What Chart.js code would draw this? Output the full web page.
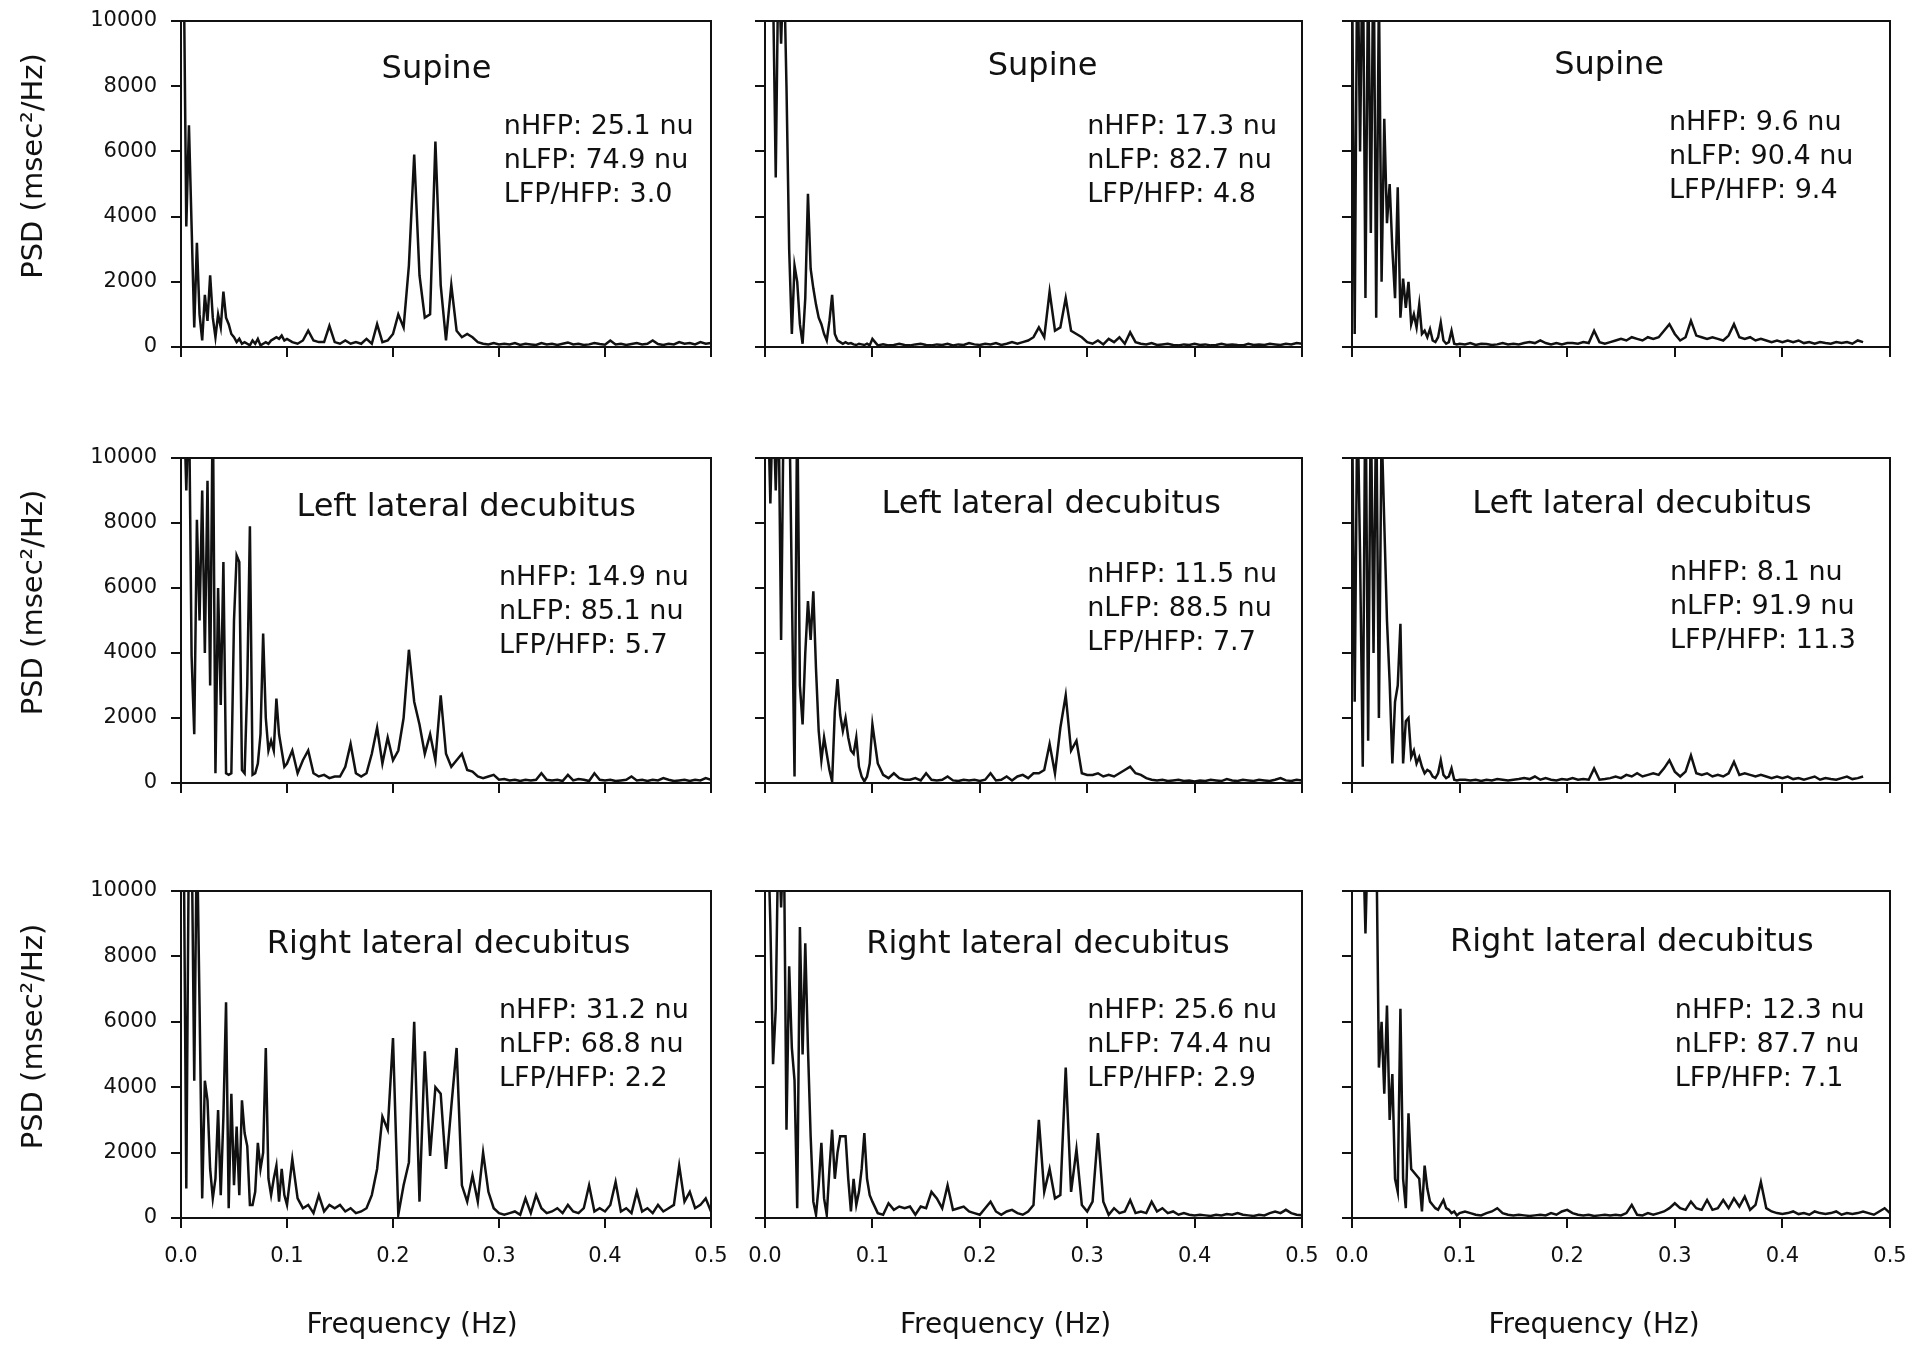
<!DOCTYPE html>
<html lang="en">
<head>
<meta charset="UTF-8">
<title>PSD by body position</title>
<script src="https://cdn.jsdelivr.net/npm/chart.js"></script>
<style>
  body { margin: 0; background: #fff; width: 1917px; height: 1345px; position: relative; overflow: hidden; }
  canvas { position: absolute; }
</style>
</head>
<body>
<script>
// frequency grid (Hz): 0.0025 steps up to 0.1, then 0.005 steps
const freqHz = [
  0, 0.0025, 0.005, 0.0075, 0.01, 0.0125, 0.015, 0.0175, 0.02, 0.0225,
  0.025, 0.0275, 0.03, 0.0325, 0.035, 0.0375, 0.04, 0.0425, 0.045, 0.0475,
  0.05, 0.0525, 0.055, 0.0575, 0.06, 0.0625, 0.065, 0.0675, 0.07, 0.0725,
  0.075, 0.0775, 0.08, 0.0825, 0.085, 0.0875, 0.09, 0.0925, 0.095, 0.0975,
  0.1, 0.105, 0.11, 0.115, 0.12, 0.125, 0.13, 0.135, 0.14, 0.145,
  0.15, 0.155, 0.16, 0.165, 0.17, 0.175, 0.18, 0.185, 0.19, 0.195,
  0.2, 0.205, 0.21, 0.215, 0.22, 0.225, 0.23, 0.235, 0.24, 0.245,
  0.25, 0.255, 0.26, 0.265, 0.27, 0.275, 0.28, 0.285, 0.29, 0.295,
  0.3, 0.305, 0.31, 0.315, 0.32, 0.325, 0.33, 0.335, 0.34, 0.345,
  0.35, 0.355, 0.36, 0.365, 0.37, 0.375, 0.38, 0.385, 0.39, 0.395,
  0.4, 0.405, 0.41, 0.415, 0.42, 0.425, 0.43, 0.435, 0.44, 0.445,
  0.45, 0.455, 0.46, 0.465, 0.47, 0.475, 0.48, 0.485, 0.49, 0.495,
  0.5
];

// PSD values (msec^2/Hz)
const supineA = [
  14000, 12000, 3700, 6800, 3700, 600, 3200, 1000, 200, 1600, 800, 2200, 900, 300, 1000, 600, 1700, 900, 700, 400,
  300, 150, 250, 100, 150, 100, 50, 200, 100, 250, 50, 100, 150, 100, 200, 250, 300, 250, 350, 200, 250,
  150, 100, 200, 500, 200, 150, 150, 650, 150, 100, 200, 100, 150, 100, 250, 100, 700, 150, 200, 400,
  1000, 600, 2500, 5900, 2200, 900, 1000, 6300, 1900, 200, 1900, 500, 300, 400, 300, 150, 100, 80, 120, 80,
  100, 80, 120, 60, 100, 80, 60, 120, 80, 100, 60, 100, 140, 80, 100, 60, 80, 120, 90, 70,
  200, 80, 100, 60, 90, 120, 80, 100, 200, 90, 60, 100, 80, 150, 100, 120, 80, 150, 100, 120
];
const supineB = [
  12000, 12000, 12000, 11000, 5200, 12000, 9300, 12000, 8000, 3000, 400, 2500, 2000, 700, 100, 1500, 4700, 2400, 1800, 1300,
  900, 700, 400, 200, 800, 1600, 400, 200, 150, 100, 150, 100, 120, 80, 60, 100, 80, 60, 100, 50, 250,
  50, 80, 50, 60, 100, 60, 50, 80, 100, 60, 50, 80, 60, 100, 50, 80, 60, 120, 80, 60,
  100, 80, 120, 60, 100, 150, 100, 150, 200, 300, 600, 300, 1700, 500, 600, 1500, 500, 400, 300, 150,
  100, 200, 80, 250, 150, 300, 100, 450, 150, 100, 80, 120, 60, 80, 100, 60, 50, 80, 60, 100,
  60, 80, 50, 60, 100, 60, 80, 60, 50, 100, 60, 80, 60, 100, 80, 60, 100, 80, 120, 100
];
const supineC = [
  12000, 400, 13000, 6000, 13000, 1500, 12000, 3500, 13000, 900, 11000, 2000, 7000, 3800, 5000, 3000, 1500, 4900, 900, 2100,
  1200, 2000, 700, 1000, 600, 1300, 400, 500, 300, 550, 200, 150, 300, 750, 200, 100, 150, 500, 100, 80, 100,
  80, 120, 60, 100, 90, 60, 80, 120, 80, 100, 80, 120, 150, 120, 200, 120, 80, 120, 80, 120,
  120, 100, 150, 120, 500, 150, 100, 150, 200, 250, 200, 300, 250, 200, 300, 250, 300, 500, 700, 400,
  200, 300, 800, 350, 300, 250, 300, 250, 200, 350, 700, 300, 250, 300, 200, 250, 200, 150, 200, 150,
  200, 150, 200, 120, 150, 100, 150, 120, 100, 150, 120, 150, 100, 200, 150, null, null, null, null, null
];
const leftA = [
  12000, 12000, 9000, 12000, 3900, 1500, 8100, 5000, 9000, 4000, 9300, 3000, 12000, 300, 6000, 2400, 6800, 300, 250, 300,
  5000, 7000, 6800, 400, 300, 3000, 7900, 250, 300, 600, 1500, 4600, 2000, 1000, 1300, 1000, 2600, 1500, 1000, 500, 600,
  1000, 300, 700, 1000, 300, 200, 250, 150, 200, 200, 500, 1200, 300, 200, 300, 900, 1700, 600, 1400, 700,
  1000, 2000, 4100, 2500, 1800, 900, 1500, 700, 2700, 900, 500, 700, 900, 400, 350, 200, 150, 200, 250, 100,
  120, 80, 100, 60, 100, 80, 100, 300, 100, 80, 100, 60, 250, 80, 120, 100, 60, 300, 100, 80,
  100, 60, 80, 100, 200, 80, 100, 60, 100, 80, 150, 100, 60, 80, 100, 60, 100, 80, 150, 100
];
const leftB = [
  12000, 12000, 8600, 12000, 9000, 12000, 4400, 12000, 10000, 12000, 6000, 200, 12000, 3000, 1800, 4000, 5600, 4400, 5900, 3500,
  1600, 700, 1400, 900, 400, 50, 2200, 3200, 2100, 1600, 2000, 1400, 1000, 900, 1400, 500, 200, 50, 200, 600, 1800,
  600, 250, 150, 300, 150, 100, 100, 150, 80, 300, 100, 80, 100, 200, 80, 60, 100, 80, 100, 60,
  100, 300, 80, 100, 200, 80, 200, 250, 150, 300, 300, 400, 1200, 300, 1700, 2700, 1000, 1300, 300, 250,
  250, 300, 200, 250, 200, 300, 400, 500, 300, 250, 150, 100, 80, 100, 60, 80, 100, 60, 80, 50,
  80, 60, 100, 80, 60, 120, 80, 60, 100, 80, 60, 100, 80, 60, 100, 150, 80, 60, 100, 80
];
const leftC = [
  12000, 2500, 12000, 7000, 500, 13000, 1300, 12000, 4000, 12000, 2000, 11000, 8000, 5000, 3100, 600, 2500, 3000, 4900, 600,
  1900, 2000, 800, 1000, 600, 800, 500, 300, 400, 350, 200, 150, 300, 700, 250, 150, 200, 450, 100, 80, 100,
  100, 80, 100, 60, 100, 80, 120, 100, 80, 100, 120, 150, 120, 200, 100, 150, 100, 80, 120, 100,
  150, 100, 120, 100, 450, 100, 120, 150, 200, 150, 250, 200, 300, 200, 250, 300, 250, 450, 700, 350,
  200, 350, 850, 300, 250, 300, 200, 250, 200, 300, 650, 250, 300, 250, 200, 250, 200, 150, 200, 150,
  200, 120, 150, 100, 150, 200, 100, 150, 120, 100, 150, 200, 120, 150, 200, null, null, null, null, null
];
const rightA = [
  12000, 12000, 900, 12000, 12000, 4200, 12000, 6500, 600, 4200, 3600, 1500, 600, 1200, 3300, 700, 3100, 6600, 300, 3800,
  1000, 2800, 700, 3600, 2600, 2200, 400, 400, 800, 2300, 1500, 2000, 5200, 1200, 700, 1200, 1600, 500, 1500, 700, 400,
  1800, 600, 300, 400, 150, 700, 200, 400, 300, 400, 200, 300, 150, 200, 300, 700, 1500, 3100, 2700, 5500,
  100, 1000, 1700, 6000, 500, 5100, 1900, 4000, 3800, 1500, 3400, 5200, 1000, 500, 1300, 500, 2000, 800, 300, 150,
  100, 150, 200, 100, 600, 150, 700, 300, 150, 200, 300, 150, 400, 200, 150, 300, 1000, 200, 300, 200,
  400, 1100, 200, 300, 150, 800, 200, 300, 150, 400, 200, 300, 400, 1600, 500, 800, 300, 400, 600, 200
];
const rightB = [
  12000, 12000, 9000, 4700, 6400, 12000, 9500, 12000, 2700, 7700, 5200, 4200, 300, 8900, 5000, 8400, 5200, 2500, 500, 100,
  1000, 2300, 600, 100, 1500, 2700, 1200, 2000, 2500, 2500, 2500, 1200, 200, 1200, 400, 800, 1500, 2600, 1200, 700, 500,
  150, 100, 450, 250, 350, 300, 350, 100, 350, 300, 800, 600, 300, 1000, 250, 300, 350, 200, 150, 100,
  300, 500, 200, 100, 200, 250, 150, 100, 200, 400, 3000, 800, 1500, 600, 700, 4600, 800, 2100, 400, 200,
  500, 2600, 500, 100, 300, 150, 200, 550, 150, 200, 150, 500, 200, 300, 150, 200, 100, 150, 100, 80,
  100, 80, 60, 100, 80, 120, 100, 150, 100, 80, 60, 100, 80, 150, 200, 150, 250, 150, 100, 80
];
const rightC = [
  12000, 12000, 12000, 12000, 12000, 8700, 12000, 12000, 12000, 12000, 4600, 6000, 3800, 6500, 3000, 4400, 1200, 800, 6400, 1200,
  300, 3200, 1500, 1400, 1300, 1200, 200, 1600, 900, 500, 400, 300, 250, 400, 550, 300, 250, 150, 200, 80, 150,
  200, 150, 100, 80, 150, 200, 300, 150, 100, 80, 100, 80, 60, 80, 100, 80, 150, 100, 200, 250,
  150, 100, 80, 100, 60, 80, 100, 80, 100, 80, 150, 400, 100, 80, 150, 100, 150, 200, 300, 450,
  300, 250, 500, 300, 250, 550, 250, 300, 550, 300, 600, 350, 650, 250, 400, 1100, 300, 200, 150, 120,
  150, 200, 120, 150, 100, 200, 150, 120, 150, 200, 100, 150, 120, 150, 200, 150, 100, 200, 300, 150
];

const panelSeries = [supineA, supineB, supineC, leftA, leftB, leftC, rightA, rightB, rightC];
const positionNames = ['Supine', 'Left lateral decubitus', 'Right lateral decubitus'];
const nHFP = ['25.1', '17.3', '9.6', '14.9', '11.5', '8.1', '31.2', '25.6', '12.3'];
const nLFP = ['74.9', '82.7', '90.4', '85.1', '88.5', '91.9', '68.8', '74.4', '87.7'];
const lfHfRatio = ['3.0', '4.8', '9.4', '5.7', '7.7', '11.3', '2.2', '2.9', '7.1'];

// page layout (px): canvas left/right and plot left/right per column, same for rows.
// canvases overlap a little (they are transparent) so tick-label padding never squeezes the plot box
const cols = [[0, 750, 181, 711], [725, 1345, 765, 1302], [1310, 1930, 1352, 1890]];
const rows = [[-20, 400, 21, 347], [400, 840, 458, 783], [840, 1345, 891, 1218]];
// text anchors as fractions of the plot box
const titleAt = [[0.482, 0.15], [0.517, 0.14], [0.478, 0.136], [0.538, 0.152], [0.533, 0.145], [0.539, 0.145], [0.505, 0.165], [0.527, 0.165], [0.52, 0.158]];
const statsAt = [[0.609, 0.325], [0.60, 0.325], [0.589, 0.314], [0.60, 0.37], [0.60, 0.359], [0.591, 0.355], [0.60, 0.367], [0.60, 0.367], [0.60, 0.367]];
const xTitleShift = [-34, -28, -27];
const FONT = '"DejaVu Sans", "Liberation Sans", Arial, sans-serif';
const INK = '#111';

const panelText = {
  id: 'panelText',
  afterDraw(chart, args, o) {
    const { ctx, chartArea: a } = chart;
    const w = a.right - a.left, h = a.bottom - a.top;
    ctx.save();
    ctx.strokeStyle = INK;
    ctx.lineWidth = 2;
    ctx.strokeRect(a.left, a.top, w, h);
    ctx.fillStyle = INK;
    ctx.textBaseline = 'middle';
    ctx.textAlign = 'center';
    ctx.font = '32px ' + FONT;
    ctx.fillText(o.title, a.left + o.titleAt[0] * w, a.top + o.titleAt[1] * h);
    ctx.textAlign = 'left';
    ctx.font = '27px ' + FONT;
    o.lines.forEach((t, k) => {
      ctx.fillText(t, a.left + o.statsAt[0] * w, a.top + o.statsAt[1] * h + k * 34);
    });
    if (o.xTitle) {
      ctx.textAlign = 'center';
      ctx.font = '28px ' + FONT;
      ctx.fillText(o.xTitle.text, o.xTitle.x, o.xTitle.y);
    }
    if (o.yTitle) {
      ctx.translate(o.yTitle.x, o.yTitle.y);
      ctx.rotate(-Math.PI / 2);
      ctx.textAlign = 'center';
      ctx.font = '29px ' + FONT;
      ctx.fillText(o.yTitle.text, 0, 0);
    }
    ctx.restore();
  }
};

function makePanel(k) {
  const r = Math.floor(k / 3), c = k % 3;
  const [cl, cr, pl, pr] = cols[c];
  const [ct, cb, pt, pb] = rows[r];
  const cv = document.createElement('canvas');
  cv.width = cr - cl;
  cv.height = cb - ct;
  cv.style.left = cl + 'px';
  cv.style.top = ct + 'px';
  document.body.appendChild(cv);

  const values = panelSeries[k];
  if (values.length !== freqHz.length) console.error('length mismatch in panel', k, values.length);

  const axisInk = { color: INK, lineWidth: 2, drawOnChartArea: false, drawTicks: true, tickLength: 10 };
  const tickFont = { family: FONT, size: 21 };

  new Chart(cv, {
    type: 'line',
    data: {
      datasets: [{
        data: freqHz.map((f, i) => ({ x: f, y: values[i] })),
        borderColor: INK,
        borderWidth: 2.5,
        pointRadius: 0,
        tension: 0,
        fill: false,
        spanGaps: false
      }]
    },
    options: {
      responsive: false,
      animation: false,
      layout: { padding: { top: pt - ct, right: cr - pr, left: 0, bottom: 0 } },
      plugins: {
        legend: { display: false },
        tooltip: { enabled: false },
        panelText: {
          title: positionNames[r],
          titleAt: titleAt[k],
          statsAt: statsAt[k],
          lines: ['nHFP: ' + nHFP[k] + ' nu', 'nLFP: ' + nLFP[k] + ' nu', 'LFP/HFP: ' + lfHfRatio[k]],
          xTitle: r === 2 ? { text: 'Frequency (Hz)', x: (pl + pr) / 2 + xTitleShift[c] - cl, y: 1326 - ct } : null,
          yTitle: c === 0 ? { text: 'PSD (msec\u00B2/Hz)', x: 34 - cl, y: (pt + pb) / 2 - 18 - ct } : null
        }
      },
      scales: {
        x: {
          type: 'linear',
          min: 0,
          max: 0.5,
          grid: axisInk,
          border: { color: INK, width: 2 },
          ticks: {
            display: r === 2,
            stepSize: 0.1,
            padding: 16,
            color: INK,
            font: tickFont,
            maxRotation: 0,
            autoSkip: false,
            callback: v => Number(v).toFixed(1)
          },
          afterFit: s => { s.height = cb - pb; }
        },
        y: {
          type: 'linear',
          min: 0,
          max: 10000,
          grid: axisInk,
          border: { color: INK, width: 2 },
          ticks: {
            display: c === 0,
            stepSize: 2000,
            padding: 14,
            color: INK,
            font: tickFont,
            callback: v => String(v)
          },
          afterFit: s => { s.width = pl - cl; }
        }
      }
    },
    plugins: [panelText]
  });
}

for (let k = 0; k < 9; k++) makePanel(k);
</script>
</body>
</html>
